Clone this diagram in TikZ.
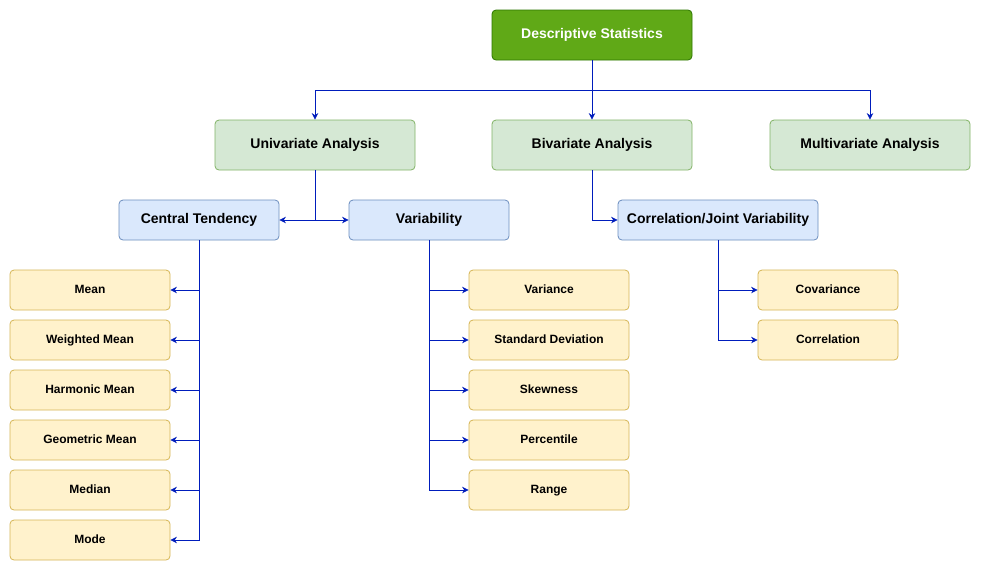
\documentclass[tikz,border=0pt]{standalone}
\usepackage{fontspec}
\setmainfont{Liberation Sans}
\usetikzlibrary{arrows.meta}
\definecolor{topfill}{HTML}{60A917}
\definecolor{topdraw}{HTML}{2D7600}
\definecolor{gfill}{HTML}{D5E8D4}
\definecolor{gdraw}{HTML}{82B366}
\definecolor{bfill}{HTML}{DAE8FC}
\definecolor{bdraw}{HTML}{6C8EBF}
\definecolor{yfill}{HTML}{FFF2CC}
\definecolor{ydraw}{HTML}{D6B656}
\definecolor{arr}{HTML}{001DBC}
\begin{document}
\begin{tikzpicture}[x=1pt,y=-1pt,
  box/.style={rounded corners=4pt, line width=0.8pt, inner sep=0pt, text height=0.72em, text depth=0pt},
  topbox/.style={box, fill=topfill, draw=topdraw, text=white, minimum width=200pt, minimum height=50pt, font=\bfseries\fontsize{14}{16}\selectfont},
  gbox/.style={box, fill=gfill, draw=gdraw, minimum width=200pt, minimum height=50pt, font=\bfseries\fontsize{14}{16}\selectfont},
  bbox/.style={box, fill=bfill, draw=bdraw, minimum height=40pt, font=\bfseries\fontsize{14}{16}\selectfont},
  ybox/.style={box, fill=yfill, draw=ydraw, minimum height=40pt, font=\bfseries\fontsize{12}{14}\selectfont},
  conn/.style={draw=arr, line width=0.8pt, -{Stealth[length=6.5pt,width=6.5pt]}},
  line/.style={draw=arr, line width=0.8pt}
]
\useasboundingbox[fill=white] (0,0) rectangle (981,571);
\node[topbox] (ds) at (592,35) {Descriptive Statistics};
\node[gbox] (uni) at (315,145) {Univariate Analysis};
\node[gbox] (bi) at (592,145) {Bivariate Analysis};
\node[gbox] (multi) at (870,145) {Multivariate Analysis};
\node[bbox, minimum width=160pt] (ct) at (199,220) {Central Tendency};
\node[bbox, minimum width=160pt] (var) at (429,220) {Variability};
\node[bbox, minimum width=200pt] (cor) at (718,220) {Correlation/Joint Variability};
\foreach \n/\t [count=\i] in {mean/Mean, wmean/Weighted Mean, hmean/Harmonic Mean, gmean/Geometric Mean, median/Median, mode/Mode}
  \node[ybox, minimum width=160pt] (\n) at (90,240+50*\i) {\t};
\foreach \n/\t [count=\i] in {variance/Variance, sd/Standard Deviation, skew/Skewness, perc/Percentile, range/Range}
  \node[ybox, minimum width=160pt] (\n) at (549,240+50*\i) {\t};
\node[ybox, minimum width=140pt] (cov) at (828,290) {Covariance};
\node[ybox, minimum width=140pt] (corr) at (828,340) {Correlation};

\coordinate (j0) at (592,90);
\draw[line] (ds.south) -- (j0);
\draw[conn] (j0) -| (uni.north);
\draw[conn] (j0) -- (bi.north);
\draw[conn] (j0) -| (multi.north);
\coordinate (j1) at (315,220);
\draw[line] (uni.south) -- (j1);
\draw[conn] (j1) -- (ct.east);
\draw[conn] (j1) -- (var.west);
\draw[conn] (bi.south) |- (cor.west);
\foreach \n in {mean, wmean, hmean, gmean, median, mode}
  \draw[conn] (ct.south) |- (\n.east);
\foreach \n in {variance, sd, skew, perc, range}
  \draw[conn] (var.south) |- (\n.west);
\foreach \n in {cov, corr}
  \draw[conn] (cor.south) |- (\n.west);
\end{tikzpicture}
\end{document}
